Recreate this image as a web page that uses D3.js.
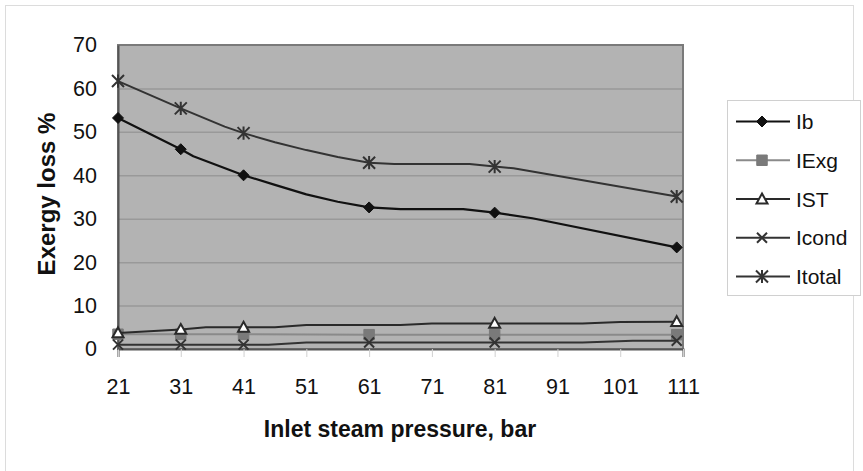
<!DOCTYPE html>
<html>
<head>
<meta charset="utf-8">
<script src="https://cdn.jsdelivr.net/npm/d3@7"></script>
<style>
  html, body { margin: 0; padding: 0; background: #fff; }
  svg { display: block; font-family: Arial, "Liberation Sans", sans-serif; }
</style>
</head>
<body>
<svg id="chart" width="863" height="471"></svg>
<script>
// Inlet steam pressure (bar) at which each loss was evaluated, and the loss curves
const xTicks = [21, 31, 41, 51, 61, 71, 81, 91, 101, 111];
const yTicks = [0, 10, 20, 30, 40, 50, 60, 70];
const markerPressures = [21, 31, 41, 61, 81, 110];

const seriesNames = ["Ib", "IExg", "IST", "Icond", "Itotal"];

// [pressure, exergy loss %]
const ibValues = [[21, 53.2], [31, 46.0], [33, 44.4], [41, 40.0], [46, 37.8], [51, 35.6], [56, 33.9], [61, 32.6], [66, 32.2], [76, 32.2], [81, 31.4], [87, 30.1], [110, 23.4]];
const iexgValues = [[21, 3.4], [31, 3.4], [41, 3.4], [61, 3.3], [81, 3.3], [110, 3.3]];
const istValues = [[21, 3.7], [31, 4.5], [35, 5.0], [41, 5.0], [46, 5.0], [51, 5.5], [66, 5.5], [71, 5.9], [81, 5.9], [95, 5.9], [101, 6.2], [110, 6.3]];
const icondValues = [[21, 1.0], [31, 1.0], [41, 1.0], [45, 1.0], [51, 1.5], [61, 1.5], [81, 1.5], [95, 1.5], [103, 1.9], [110, 1.9]];
const itotalValues = [[21, 61.7], [31, 55.4], [38, 51.2], [41, 49.7], [46, 47.6], [51, 45.8], [56, 44.2], [61, 42.9], [65, 42.6], [77, 42.6], [81, 42.0], [84, 41.6], [110, 35.1]];

const svg = d3.select("#chart");
const plot = { left: 118, top: 45, right: 683, bottom: 349 };

const x = d3.scaleLinear().domain([21, 111]).range([plot.left, plot.right]);
const y = d3.scaleLinear().domain([0, 70]).range([plot.bottom, plot.top]);

// chart-area frame
svg.append("rect")
  .attr("x", 5.5).attr("y", 5.5).attr("width", 848).attr("height", 470)
  .attr("fill", "#fff").attr("stroke", "#dcdcdc").attr("stroke-width", 1);

// plot area background
svg.append("rect")
  .attr("x", plot.left).attr("y", plot.top)
  .attr("width", plot.right - plot.left).attr("height", plot.bottom - plot.top)
  .attr("fill", "#b3b3b3");

// horizontal gridlines
svg.append("g").selectAll("line")
  .data(yTicks.filter(v => v > 0 && v < 70))
  .join("line")
  .attr("x1", plot.left).attr("x2", plot.right)
  .attr("y1", d => y(d) + 0.5).attr("y2", d => y(d) + 0.5)
  .attr("stroke", "#999").attr("stroke-width", 1.5);

// plot border
svg.append("rect")
  .attr("x", plot.left).attr("y", plot.top)
  .attr("width", plot.right - plot.left).attr("height", plot.bottom - plot.top)
  .attr("fill", "none").attr("stroke", "#7a7a7a").attr("stroke-width", 2);

// x axis
const xAxis = svg.append("g")
  .attr("transform", `translate(0,${plot.bottom})`)
  .call(d3.axisBottom(x).tickValues(xTicks).tickSize(8).tickPadding(22).tickFormat(d3.format("d")));
xAxis.select(".domain").attr("stroke", "#555").attr("stroke-width", 2);
xAxis.selectAll(".tick line").attr("stroke", "#d0d0d0").attr("stroke-width", 1);
xAxis.selectAll("text").attr("font-size", 21.5).attr("fill", "#111").attr("font-family", "Arial, 'Liberation Sans', sans-serif");

// y axis
const yAxis = svg.append("g")
  .attr("transform", `translate(${plot.left},0)`)
  .call(d3.axisLeft(y).tickValues(yTicks).tickSize(0).tickPadding(21));
yAxis.select(".domain").attr("stroke", "#555").attr("stroke-width", 2);
yAxis.selectAll("text").attr("font-size", 21.5).attr("fill", "#111").attr("font-family", "Arial, 'Liberation Sans', sans-serif");

// axis titles
svg.append("text")
  .attr("x", (plot.left + plot.right) / 2 - 0.5).attr("y", 437)
  .attr("text-anchor", "middle").attr("font-size", 23).attr("font-weight", "bold").attr("fill", "#111")
  .text("Inlet steam pressure, bar");
svg.append("text")
  .attr("transform", `translate(55,${(plot.top + plot.bottom) / 2 - 3}) rotate(-90)`)
  .attr("text-anchor", "middle").attr("font-size", 24).attr("font-weight", "bold").attr("fill", "#111")
  .text("Exergy loss %");

// custom marker shapes
const symbolX = {
  draw(ctx, size) {
    const r = Math.sqrt(size) / 2;
    ctx.moveTo(-r, -r); ctx.lineTo(r, r);
    ctx.moveTo(-r, r); ctx.lineTo(r, -r);
  }
};
const symbolStar = {
  draw(ctx, size) {
    const r = Math.sqrt(size) / 2;
    ctx.moveTo(-r, -r); ctx.lineTo(r, r);
    ctx.moveTo(-r, r); ctx.lineTo(r, -r);
    ctx.moveTo(0, -r * 1.1); ctx.lineTo(0, r * 1.1);
  }
};
const symbolDiamond = {
  draw(ctx, size) {
    const r = Math.sqrt(size) / 2;
    ctx.moveTo(0, -r); ctx.lineTo(r, 0); ctx.lineTo(0, r); ctx.lineTo(-r, 0); ctx.closePath();
  }
};
const symbolSquare = {
  draw(ctx, size) {
    const r = Math.sqrt(size) / 2;
    ctx.rect(-r, -r, 2 * r, 2 * r);
  }
};
const symbolTriangle = {
  draw(ctx, size) {
    const r = Math.sqrt(size) / 2;
    ctx.moveTo(0, -r); ctx.lineTo(r, r * 0.8); ctx.lineTo(-r, r * 0.8); ctx.closePath();
  }
};

const series = [
  { name: seriesNames[0], values: ibValues, line: "#111", lineWidth: 2.2,
    symbol: symbolDiamond, size: 121, fill: "#111", stroke: "#111", sw: 1 },
  { name: seriesNames[1], values: iexgValues, line: "#8a8a8a", lineWidth: 2,
    symbol: symbolSquare, size: 110, fill: "#7a7a7a", stroke: "#7a7a7a", sw: 1 },
  { name: seriesNames[2], values: istValues, line: "#2a2a2a", lineWidth: 2,
    symbol: symbolTriangle, size: 121, fill: "#fff", stroke: "#2a2a2a", sw: 2 },
  { name: seriesNames[3], values: icondValues, line: "#333", lineWidth: 2,
    symbol: symbolX, size: 100, fill: "none", stroke: "#333", sw: 2 },
  { name: seriesNames[4], values: itotalValues, line: "#333", lineWidth: 2,
    symbol: symbolStar, size: 144, fill: "none", stroke: "#333", sw: 2 }
];

const lineGen = d3.line().x(d => x(d[0])).y(d => y(d[1]));

series.forEach(s => {
  const g = svg.append("g").attr("class", "series");
  g.append("path")
    .datum(s.values)
    .attr("d", lineGen)
    .attr("fill", "none").attr("stroke", s.line).attr("stroke-width", s.lineWidth)
    .attr("stroke-linejoin", "round");
  g.selectAll("path.marker")
    .data(s.values.filter(d => markerPressures.includes(d[0])))
    .join("path")
    .attr("class", "marker")
    .attr("transform", d => `translate(${x(d[0])},${y(d[1])})`)
    .attr("d", d3.symbol().type(s.symbol).size(s.size))
    .attr("fill", s.fill).attr("stroke", s.stroke).attr("stroke-width", s.sw);
});

// legend
const legend = svg.append("g");
legend.append("rect")
  .attr("x", 727.5).attr("y", 100.5).attr("width", 133).attr("height", 195)
  .attr("fill", "#fff").attr("stroke", "#d0d0d0").attr("stroke-width", 1);

const rowY = d3.scalePoint().domain(seriesNames).range([121.5, 276.5]);
series.forEach(s => {
  const ly = rowY(s.name);
  legend.append("line")
    .attr("x1", 736).attr("x2", 790).attr("y1", ly).attr("y2", ly)
    .attr("stroke", s.line).attr("stroke-width", s.lineWidth);
  legend.append("path")
    .attr("transform", `translate(762,${ly})`)
    .attr("d", d3.symbol().type(s.symbol).size(s.size))
    .attr("fill", s.fill).attr("stroke", s.stroke).attr("stroke-width", s.sw);
  legend.append("text")
    .attr("x", 796).attr("y", ly).attr("dy", "0.36em")
    .attr("font-size", 21).attr("fill", "#111")
    .text(s.name);
});
</script>
</body>
</html>
